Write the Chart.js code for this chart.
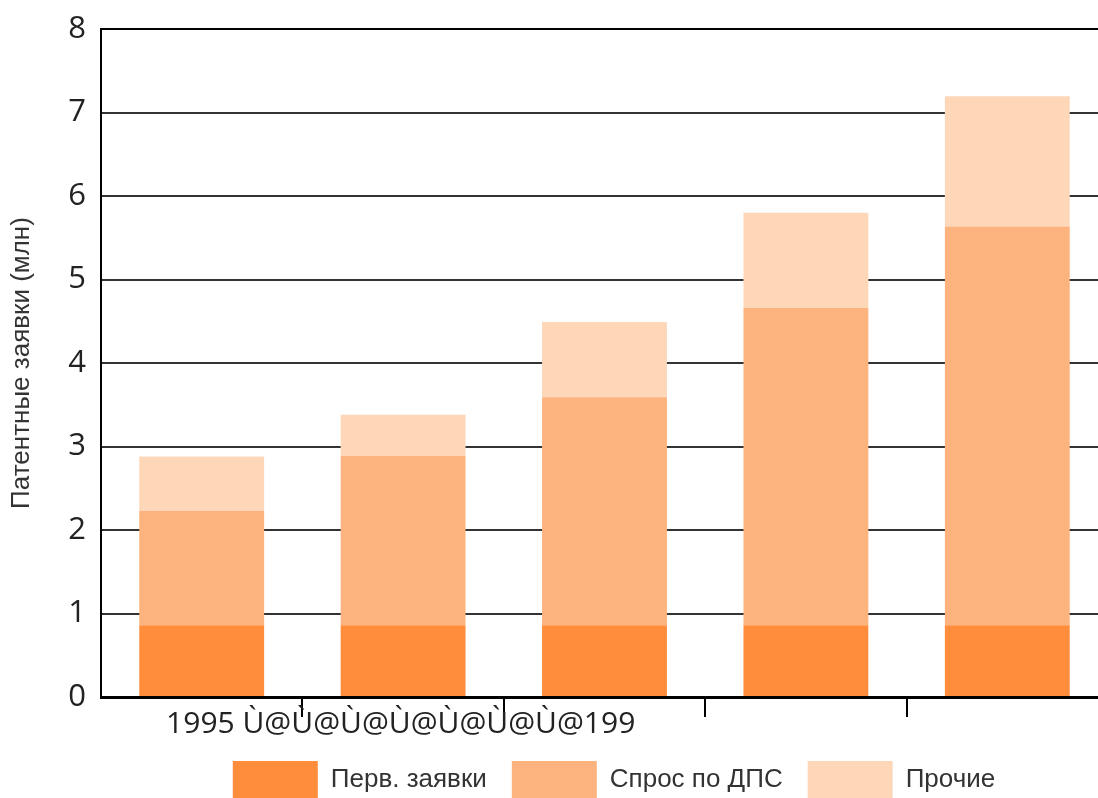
<!DOCTYPE html>
<html>
<head>
<meta charset="utf-8">
<script src="https://cdn.jsdelivr.net/npm/chart.js@4/dist/chart.umd.min.js"></script>
<style>
  html, body { margin: 0; padding: 0; overflow: hidden; background: #fff; }
  #wrap { position: absolute; left: 0; top: 0; width: 1228px; height: 798px; }
</style>
</head>
<body>
<div id="wrap"><canvas id="c" width="1228" height="798"></canvas></div>
<script>
const categories = ["1995 Ù@Ù@Ù@Ù@Ù@Ù@Ù@199", "", "", "", ""];
const seriesNames = ["Перв. заявки", "Спрос по ДПС", "Прочие"];
const firstFilings = [0.86, 0.86, 0.86, 0.86, 0.86];
const pctDemand = [1.37, 2.03, 2.73, 3.80, 4.775];
const otherFilings = [0.65, 0.49, 0.90, 1.14, 1.56];
const yTicks = [0, 1, 2, 3, 4, 5, 6, 7, 8];
const yTitle = "Патентные заявки (млн)";

const shiftLegend = {
  id: 'shiftLegend',
  afterLayout(chart) {
    const l = chart.legend;
    const dx = 60, dy = -16;
    l.left += dx; l.right += dx; l.top += dy; l.bottom += dy;
  }
};

new Chart(document.getElementById('c'), {
  type: 'bar',
  data: {
    labels: categories,
    datasets: [
      { label: seriesNames[0], data: firstFilings, backgroundColor: '#FF8D3B' },
      { label: seriesNames[1], data: pctDemand, backgroundColor: '#FDB37D' },
      { label: seriesNames[2], data: otherFilings, backgroundColor: '#FED7B9' }
    ]
  },
  options: {
    responsive: false,
    animation: false,
    devicePixelRatio: 1,
    datasets: { bar: { barPercentage: 0.62, categoryPercentage: 1.0, borderWidth: 0 } },
    layout: { padding: { left: 0, right: 120, top: 29, bottom: -27 } },
    plugins: {
      tooltip: { enabled: false },
      legend: {
        position: 'bottom',
        labels: {
          boxWidth: 85, boxHeight: 38, padding: 25,
          color: '#333',
          font: { family: 'Liberation Sans', size: 26 }
        }
      }
    },
    scales: {
      x: {
        stacked: true,
        offset: true,
        afterFit(s) { s.height = 55; s.paddingLeft = 0; s.paddingRight = 0; },
        grid: {
          display: true, drawOnChartArea: false, drawTicks: true, offset: true,
          tickLength: 20, lineWidth: 2,
          color: (ctx) => ctx.index === 0 ? 'rgba(0,0,0,0)' : '#000'
        },
        border: { display: true, color: '#000', width: 3 },
        ticks: {
          autoSkip: false, maxRotation: 0, minRotation: 0,
          labelOffset: 199, padding: -11,
          color: '#222',
          font: { family: 'Open Sans', size: 30 }
        }
      },
      y: {
        stacked: true,
        min: 0, max: 8,
        afterFit(s) { s.width = 101; s.paddingTop = 0; s.paddingBottom = 0; },
        afterBuildTicks(s) { s.ticks = yTicks.map(v => ({ value: v })); },
        grid: {
          drawTicks: false, lineWidth: 2,
          color: (ctx) => (ctx.tick && ctx.tick.value === 8) ? '#000' : '#333'
        },
        border: { display: true, color: '#000', width: 2 },
        ticks: {
          padding: 15, color: '#222',
          font: { family: 'Open Sans', size: 31 }
        },
        title: {
          display: true, text: yTitle, color: '#333',
          padding: { top: 6, bottom: 0 },
          font: { family: 'Liberation Sans', size: 26 }
        }
      }
    }
  },
  plugins: [shiftLegend]
});
</script>
</body>
</html>
